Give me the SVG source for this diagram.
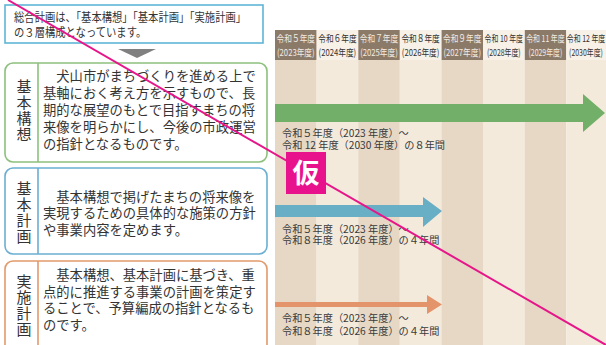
<svg xmlns="http://www.w3.org/2000/svg" width="606" height="345" viewBox="0 0 606 345">
<style>
text{font-family:"Noto Sans CJK JP","Noto Sans",sans-serif;fill:#333}
.hd{font-size:9.6px;text-anchor:middle}
.hdk{fill:#f3ebe0}
.cd{fill:#e6d8c5}
.cl{fill:#f4eadc}
.body{font-size:13.3px}
.lab{font-size:15px;writing-mode:vertical-rl;letter-spacing:1px}
.per{font-size:10.2px;fill:#3a3a3a}
.box{fill:#fff;stroke-width:1.6}
</style>
<rect width="606" height="345" fill="#fff"/>
<g id="timeline">
<rect class="cd" x="275" y="30" width="41.6" height="315"/>
<rect class="cl" x="316.6" y="30" width="41.6" height="315"/>
<rect class="cd" x="358.2" y="30" width="41.6" height="315"/>
<rect class="cl" x="399.8" y="30" width="41.6" height="315"/>
<rect class="cd" x="441.4" y="30" width="41.6" height="315"/>
<rect class="cl" x="483" y="30" width="41.6" height="315"/>
<rect class="cd" x="524.6" y="30" width="41.6" height="315"/>
<rect class="cl" x="566.2" y="30" width="41.6" height="315"/>
<g fill="#8c7a69">
<rect x="275" y="30" width="41.6" height="30"/>
<rect x="358.2" y="30" width="41.6" height="30"/>
<rect x="441.4" y="30" width="41.6" height="30"/>
<rect x="524.6" y="30" width="41.6" height="30"/>
</g>
<g fill="#f7f1e8">
<rect x="316.6" y="30" width="41.6" height="30"/>
<rect x="399.8" y="30" width="41.6" height="30"/>
<rect x="483" y="30" width="41.6" height="30"/>
<rect x="566.2" y="30" width="41.6" height="30"/>
</g>
<text class="hd hdk" transform="translate(295.8 0) scale(0.8 1)"><tspan x="0" y="42.5">令和５年度</tspan><tspan x="0" y="56.5">(2023年度)</tspan></text>
<text class="hd" transform="translate(337.4 0) scale(0.8 1)"><tspan x="0" y="42.5">令和６年度</tspan><tspan x="0" y="56.5">(2024年度)</tspan></text>
<text class="hd hdk" transform="translate(379 0) scale(0.8 1)"><tspan x="0" y="42.5">令和７年度</tspan><tspan x="0" y="56.5">(2025年度)</tspan></text>
<text class="hd" transform="translate(420.6 0) scale(0.8 1)"><tspan x="0" y="42.5">令和８年度</tspan><tspan x="0" y="56.5">(2026年度)</tspan></text>
<text class="hd hdk" transform="translate(462.2 0) scale(0.8 1)"><tspan x="0" y="42.5">令和９年度</tspan><tspan x="0" y="56.5">(2027年度)</tspan></text>
<text class="hd" transform="translate(503.8 0) scale(0.72 1)"><tspan x="0" y="42.5">令和 10 年度</tspan><tspan x="0" y="56.5">(2028年度)</tspan></text>
<text class="hd hdk" transform="translate(545.4 0) scale(0.72 1)"><tspan x="0" y="42.5">令和 11 年度</tspan><tspan x="0" y="56.5">(2029年度)</tspan></text>
<text class="hd" transform="translate(586 0) scale(0.72 1)"><tspan x="0" y="42.5">令和 12 年度</tspan><tspan x="0" y="56.5">(2030年度)</tspan></text>
</g>
<g id="connectors">
<polygon fill="#72b06a" points="275,104 583,104 583,94 605,113 583,132 583,122 275,122"/>
<polygon fill="#68aec5" points="275,205 423,205 423,197 442,211 423,227 423,217 275,217"/>
<polygon fill="#e4946a" points="275,302 427,302 427,295 442,304.5 427,314 427,307 275,307"/>
<polygon fill="#808080" points="118,49 156,49 137,58"/>
</g>
<g id="period-labels">
<text class="per"><tspan x="282" y="137">令和５年度（2023 年度）～</tspan><tspan x="282" y="149">令和 12 年度（2030 年度）の８年間</tspan></text>
<text class="per"><tspan x="282" y="232.5">令和５年度（2023 年度）～</tspan><tspan x="282" y="244">令和８年度（2026 年度）の４年間</tspan></text>
<text class="per"><tspan x="282" y="322">令和５年度（2023 年度）～</tspan><tspan x="282" y="335">令和８年度（2026 年度）の４年間</tspan></text>
</g>
<g id="intro">
<rect x="5" y="5" width="258" height="38" fill="#fff" stroke="#5fb6d8" stroke-width="1.6"/>
<text font-size="12" transform="scale(0.86 1)"><tspan x="16.3" y="22.5">総合計画は、「基本構想」「基本計画」「実施計画」</tspan><tspan x="16.3" y="37.5">の３層構成となっています。</tspan></text>
</g>
<g id="kihon-koso">
<rect class="box" x="5" y="63" width="262" height="99" rx="8" stroke="#8cc07c"/>
<line x1="38" y1="63" x2="38" y2="162" stroke="#8cc07c" stroke-width="1.6"/>
<text class="lab" x="24" y="79">基本構想</text>
<text class="body"><tspan x="43" y="80.5">　犬山市がまちづくりを進める上で</tspan><tspan x="43" y="97.5">基軸におく考え方を示すもので、長</tspan><tspan x="43" y="114.5">期的な展望のもとで目指すまちの将</tspan><tspan x="43" y="131.5">来像を明らかにし、今後の市政運営</tspan><tspan x="43" y="148.5">の指針となるものです。</tspan></text>
</g>
<g id="kihon-keikaku">
<rect class="box" x="5" y="168" width="262" height="86" rx="8" stroke="#6aaed2"/>
<line x1="38" y1="168" x2="38" y2="254" stroke="#6aaed2" stroke-width="1.6"/>
<text class="lab" x="24" y="180.5">基本計画</text>
<text class="body"><tspan x="43" y="201.5">　基本構想で掲げたまちの将来像を</tspan><tspan x="43" y="218.3">実現するための具体的な施策の方針</tspan><tspan x="43" y="235">や事業内容を定めます。</tspan></text>
</g>
<g id="jisshi-keikaku">
<rect class="box" x="5" y="261" width="262" height="100" rx="8" stroke="#e29a6c"/>
<line x1="38" y1="261" x2="38" y2="345" stroke="#e29a6c" stroke-width="1.6"/>
<text class="lab" x="24" y="274">実施計画</text>
<text class="body"><tspan x="43" y="280">　基本構想、基本計画に基づき、重</tspan><tspan x="43" y="296.7">点的に推進する事業の計画を策定す</tspan><tspan x="43" y="313.4">ることで、予算編成の指針となるも</tspan><tspan x="43" y="330">のです。</tspan></text>
</g>
<g id="draft-mark">
<line x1="8" y1="0" x2="606" y2="345" stroke="#e6168a" stroke-width="2"/>
<rect x="286" y="152" width="40" height="42" fill="#e8128c"/>
<text x="306" y="183" font-size="27" font-weight="bold" text-anchor="middle" style="fill:#fff">仮</text>
</g>
</svg>
